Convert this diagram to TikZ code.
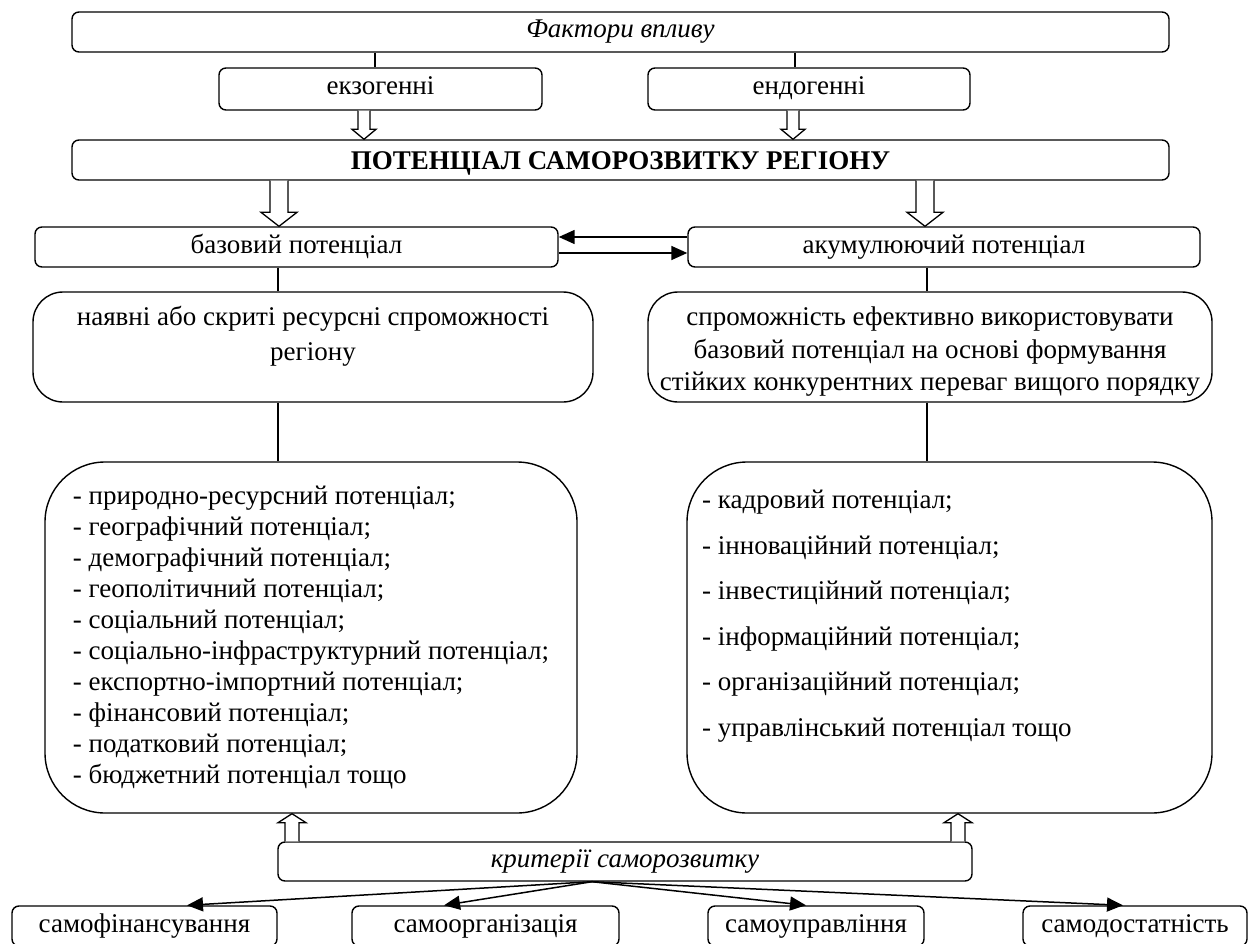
\documentclass[tikz,border=0pt]{standalone}
\usepackage{fontspec}
\setmainfont{Liberation Serif}
\usetikzlibrary{arrows.meta,calc}
\newcommand{\hollowarr}[5]{%
  \draw[line width=1.3pt, fill=white, line join=miter]
    let \p1=(#1), \p2=(#2) in
    (\x1-#3,\y1) -- (\x1-#3,\y2+#5) -- (\x1-#4,\y2+#5) -- (\x1,\y2)
    -- (\x1+#4,\y2+#5) -- (\x1+#3,\y2+#5) -- (\x1+#3,\y1);}
\begin{document}
\begin{tikzpicture}[x=1pt,y=-1pt,
  box/.style={draw, line width=1.4pt, rounded corners=7pt, inner sep=0pt, align=center,
              font=\fontsize{27}{31}\selectfont},
  onebox/.style={box, text height=18pt, text depth=6pt},
  bigbox/.style={box, rounded corners=30pt},
  listbox/.style={box, rounded corners=60pt},
  conn/.style={line width=1.4pt},
  arr/.style={line width=1.5pt, -{Triangle[length=16pt,width=14pt]}},
]
\useasboundingbox (0,0) rectangle (1250,944);

% top
\node[onebox, minimum width=1097pt, minimum height=40pt, font=\fontsize{27}{31}\selectfont\itshape] (fact) at (620.5,32) {Фактори впливу};
\node[onebox, minimum width=323pt, minimum height=42pt] (exo) at (380.5,89) {екзогенні};
\node[onebox, minimum width=322pt, minimum height=42pt] (endo) at (809,89) {ендогенні};
\node[box, text height=20pt, text depth=0pt, minimum width=1097pt, minimum height=40pt, font=\fontsize{27}{31}\selectfont\bfseries] (pot) at (620.5,160) {ПОТЕНЦІАЛ САМОРОЗВИТКУ РЕГІОНУ};

\node[onebox, minimum width=523pt, minimum height=40pt] (base) at (296.5,247) {базовий потенціал};
\node[onebox, minimum width=512pt, minimum height=40pt] (acc) at (944,247) {акумулюючий потенціал};

\node[bigbox, minimum width=560pt, minimum height=110pt,
      label={[anchor=north, inner sep=0pt, yshift=-15pt, align=center, font=\fontsize{27}{35}\selectfont]north:{наявні або скриті ресурсні спроможності\\регіону}}] (nay) at (313,347) {};
\node[bigbox, minimum width=564pt, minimum height=110pt,
      label={[anchor=center, inner sep=0pt, yshift=-5pt, align=center, font=\fontsize{27}{32.5}\selectfont]center:{спроможність ефективно використовувати\\базовий потенціал на основі формування\\стійких конкурентних переваг вищого порядку}}] (spro) at (930,347) {};

\node[listbox, minimum width=532pt, minimum height=351pt, align=left] (ll) at (311,637.5)
  {- природно-ресурсний потенціал;\\
   - географічний потенціал;\\
   - демографічний потенціал;\\
   - геополітичний потенціал;\\
   - соціальний потенціал;\\
   - соціально-інфраструктурний потенціал;\\
   - експортно-імпортний потенціал;\\
   - фінансовий потенціал;\\
   - податковий потенціал;\\
   - бюджетний потенціал тощо};
\node[listbox, minimum width=525pt, minimum height=351pt] (rl) at (949.5,637.5) {};
\node[anchor=north west, inner sep=0pt, align=left, font=\fontsize{27}{45.5}\selectfont] (rlt) at (702,490)
  {- кадровий потенціал;\\
   - інноваційний потенціал;\\
   - інвестиційний потенціал;\\
   - інформаційний потенціал;\\
   - організаційний потенціал;\\
   - управлінський потенціал тощо};

\node[onebox, minimum width=694pt, minimum height=39pt, font=\fontsize{27}{31}\selectfont\itshape] (crit) at (625,861.5) {критерії саморозвитку};

\node[onebox, minimum width=265pt, minimum height=40pt] (sf) at (144.5,926) {самофінансування};
\node[onebox, minimum width=267pt, minimum height=40pt] (so) at (485.5,926) {самоорганізація};
\node[onebox, minimum width=216pt, minimum height=40pt] (su) at (816,926) {самоуправління};
\node[onebox, minimum width=224pt, minimum height=40pt] (sd) at (1135,926) {самодостатність};

% x positions
\coordinate (xa) at (375,0);
\coordinate (xb) at (795,0);
\coordinate (xc) at (364,0);
\coordinate (xd) at (793,0);
\coordinate (xe) at (279,0);
\coordinate (xf) at (925,0);
\coordinate (xg) at (278,0);
\coordinate (xh) at (927,0);
\coordinate (xi) at (292,0);
\coordinate (xj) at (958,0);

\draw[conn] (xa |- fact.south) -- (xa |- exo.north);
\draw[conn] (xb |- fact.south) -- (xb |- endo.north);

\hollowarr{xc |- exo.south}{xc |- pot.north}{6pt}{12pt}{10pt}
\hollowarr{xd |- endo.south}{xd |- pot.north}{6pt}{12pt}{10pt}
\hollowarr{xe |- pot.south}{xe |- base.north}{9pt}{18pt}{14pt}
\hollowarr{xf |- pot.south}{xf |- acc.north}{9pt}{18pt}{14pt}

\draw[arr] ($(acc.west)+(0,-10)$) -- ($(base.east)+(0,-10)$);
\draw[arr] ($(base.east)+(0,6)$) -- ($(acc.west)+(0,6)$);

\draw[conn] (xg |- base.south) -- (xg |- nay.north);
\draw[conn] (xh |- acc.south) -- (xh |- spro.north);
\draw[conn] (xg |- nay.south) -- (xg |- ll.north);
\draw[conn] (xh |- spro.south) -- (xh |- rl.north);

\hollowarr{xi |- crit.north}{xi |- ll.south}{7pt}{14pt}{-9pt}
\hollowarr{xj |- crit.north}{xj |- rl.south}{7pt}{14pt}{-9pt}

\coordinate (cs) at ($(crit.south)+(-33,0)$);
\draw[arr] (cs) -- ($(sf.north)+(42.5,0)$);
\draw[arr] (cs) -- ($(so.north)+(-41.5,0)$);
\draw[arr] (cs) -- ($(su.north)+(-10,0)$);
\draw[arr] (cs) -- ($(sd.north)+(-12,0)$);
\end{tikzpicture}
\end{document}
